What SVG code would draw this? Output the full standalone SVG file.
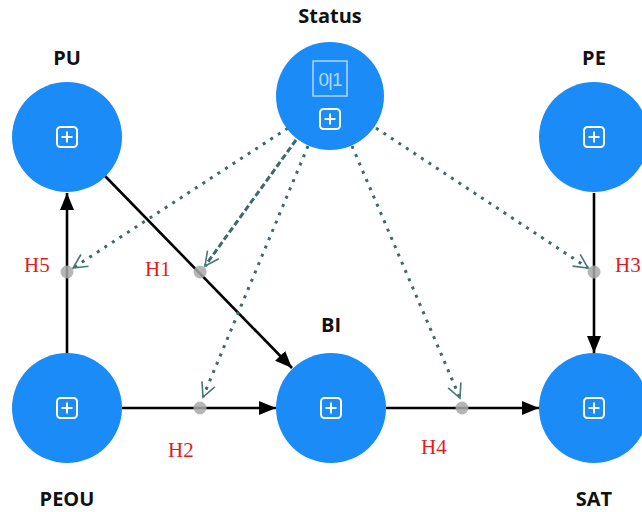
<svg xmlns="http://www.w3.org/2000/svg" width="642" height="512" viewBox="0 0 642 512">
<style>
.node{fill:#1b8cf7}
.lbl{font-family:"Open Sans","Liberation Sans",sans-serif;font-weight:bold;font-size:20px;fill:#111;text-anchor:middle}
.hyp{font-family:"Liberation Serif","Times New Roman",serif;font-size:21px;fill:#e31b1b}
.icon{fill:none;stroke:#fff;stroke-width:2}
.path{stroke:#000;stroke-width:2.6;fill:none}
.mod{stroke:#3d6a6a;stroke-width:3;fill:none;stroke-dasharray:3 6}
.dense{stroke-dasharray:6 3}
.dot{fill:#a9a9a9;opacity:0.85}
</style>
<defs>
<marker id="ah" markerUnits="userSpaceOnUse" markerWidth="18" markerHeight="18" viewBox="0 0 18 18" refX="17" refY="9" orient="auto">
<path d="M0,2 L17,9 L0,16 Z" fill="#000"/>
</marker>
<marker id="av" markerUnits="userSpaceOnUse" markerWidth="18" markerHeight="18" viewBox="0 0 18 18" refX="16" refY="9" orient="auto">
<path d="M2,2 L16,9 L2,16" fill="none" stroke="#4a7878" stroke-width="1.6"/>
</marker>
<g id="plus">
<rect x="-10" y="-10" width="20" height="20" rx="3.5" class="icon"/>
<path d="M-5.5,0 H5.5 M0,-5.5 V5.5" class="icon" stroke-width="2.6"/>
</g>
</defs>
<rect width="642" height="512" fill="#fff"/>
<g id="connectors">
<line x1="105" y1="176" x2="292" y2="368" class="path" marker-end="url(#ah)"/>
<line x1="67" y1="353" x2="67" y2="193" class="path" marker-end="url(#ah)"/>
<line x1="594" y1="193" x2="594" y2="353" class="path" marker-end="url(#ah)"/>
<line x1="122" y1="408" x2="276" y2="408" class="path" marker-end="url(#ah)"/>
<line x1="386" y1="408" x2="539" y2="408" class="path" marker-end="url(#ah)"/>
<line x1="288" y1="128" x2="73" y2="268" class="mod" marker-end="url(#av)"/>
<line x1="296" y1="140" x2="205" y2="266" class="mod dense" marker-end="url(#av)"/>
<line x1="308" y1="146" x2="203" y2="397" class="mod" marker-end="url(#av)"/>
<line x1="352" y1="146" x2="460" y2="398" class="mod" marker-end="url(#av)"/>
<line x1="376" y1="128" x2="588" y2="268" class="mod" marker-end="url(#av)"/>
<circle cx="67" cy="272" r="6.5" class="dot"/>
<circle cx="200" cy="272" r="6.5" class="dot"/>
<circle cx="594" cy="272" r="6.5" class="dot"/>
<circle cx="200" cy="408" r="6.5" class="dot"/>
<circle cx="462" cy="408" r="6.5" class="dot"/>
<text x="24" y="272" class="hyp">H5</text>
<text x="145" y="276" class="hyp">H1</text>
<text x="615" y="272" class="hyp">H3</text>
<text x="168" y="457" class="hyp">H2</text>
<text x="421" y="454" class="hyp">H4</text>
</g>
<g id="Status">
<circle cx="330" cy="96" r="54" class="node"/>
<rect x="313" y="61" width="34" height="35" fill="none" stroke="#a8d2ff" stroke-width="1.6"/>
<text x="330" y="86" font-family="'Liberation Sans',sans-serif" font-size="19" letter-spacing="-1" fill="#b4d8ff" text-anchor="middle">0|1</text>
<use href="#plus" x="330" y="119"/>
<text x="330" y="23" class="lbl">Status</text>
</g>
<g id="PU">
<circle cx="67" cy="137" r="55" class="node"/>
<use href="#plus" x="67" y="137"/>
<text x="67" y="65" class="lbl">PU</text>
</g>
<g id="PE">
<circle cx="594" cy="137" r="55" class="node"/>
<use href="#plus" x="594" y="137"/>
<text x="594" y="65" class="lbl">PE</text>
</g>
<g id="PEOU">
<circle cx="67" cy="408" r="55" class="node"/>
<use href="#plus" x="67" y="408"/>
<text x="67" y="506" class="lbl">PEOU</text>
</g>
<g id="BI">
<circle cx="331" cy="408" r="55" class="node"/>
<use href="#plus" x="331" y="408"/>
<text x="331" y="332" class="lbl">BI</text>
</g>
<g id="SAT">
<circle cx="594" cy="408" r="55" class="node"/>
<use href="#plus" x="594" y="408"/>
<text x="594" y="506" class="lbl">SAT</text>
</g>
</svg>
